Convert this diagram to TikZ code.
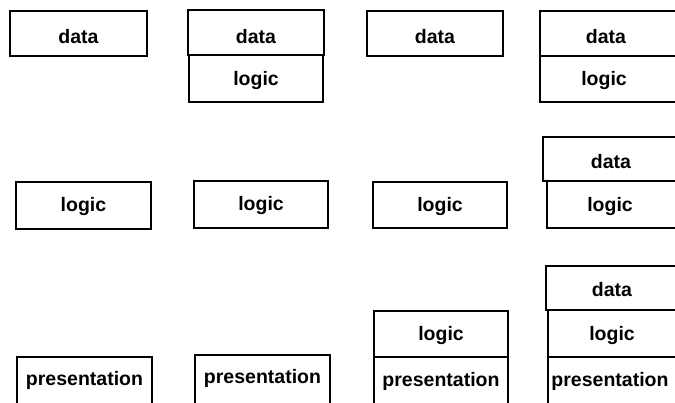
\documentclass[tikz,border=0pt]{standalone}
\usepackage{fontspec}
\setmainfont{Liberation Sans}
\newcommand\tierfont{\fontsize{19.5}{23}\selectfont\bfseries}
\begin{document}
\begin{tikzpicture}[x=1pt,y=-1pt,
  tier/.style={draw=black, line width=2pt},
  lbl/.style={anchor=base, font=\tierfont, inner sep=0pt}]
\useasboundingbox (0,0) rectangle (675,402);
\clip (0,0) rectangle (675,402);

% column 1: separate tiers
\draw[tier] (10,11) rectangle (147,56);
\node[lbl] (c1data) at (78.5,43.5) {data};
\draw[tier] (16,182) rectangle (151,229);
\node[lbl] (c1logic) at (83.5,211) {logic};
\draw[tier] (17,357) rectangle (152,420);
\node[lbl] (c1pres) at (84.5,385) {presentation};

% column 2: data and logic together
\draw[tier] (188,10) rectangle (324,55);
\node[lbl] (c2data) at (256,43) {data};
\draw[tier] (189,55) rectangle (323,102);
\node[lbl] (c2logica) at (256,85) {logic};
\draw[tier] (194,181) rectangle (328,228);
\node[lbl] (c2logicb) at (261,210) {logic};
\draw[tier] (195,355) rectangle (330,420);
\node[lbl] (c2pres) at (262.5,383) {presentation};

% column 3: logic and presentation together
\draw[tier] (367,11) rectangle (503,56);
\node[lbl] (c3data) at (435,43.5) {data};
\draw[tier] (373,182) rectangle (507,228);
\node[lbl] (c3logica) at (440,211) {logic};
\draw[tier] (374,311) rectangle (508,357);
\node[lbl] (c3logicb) at (441,340) {logic};
\draw[tier] (374,357) rectangle (508,420);
\node[lbl] (c3pres) at (441,386) {presentation};

% column 4: every tier stacked
\draw[tier] (540,11) rectangle (690,56);
\node[lbl] (c4dataa) at (606,43.5) {data};
\draw[tier] (540,56) rectangle (690,102);
\node[lbl] (c4logica) at (604,85) {logic};
\draw[tier] (543,137) rectangle (690,181);
\node[lbl] (c4datab) at (611,168) {data};
\draw[tier] (547,181) rectangle (690,228);
\node[lbl] (c4logicb) at (610,211) {logic};
\draw[tier] (546,266) rectangle (690,310);
\node[lbl] (c4datac) at (612,296) {data};
\draw[tier] (548,310) rectangle (690,357);
\node[lbl] (c4logicc) at (612,340) {logic};
\draw[tier] (548,357) rectangle (690,420);
\node[lbl] (c4pres) at (610,386) {presentation};
\end{tikzpicture}
\end{document}
